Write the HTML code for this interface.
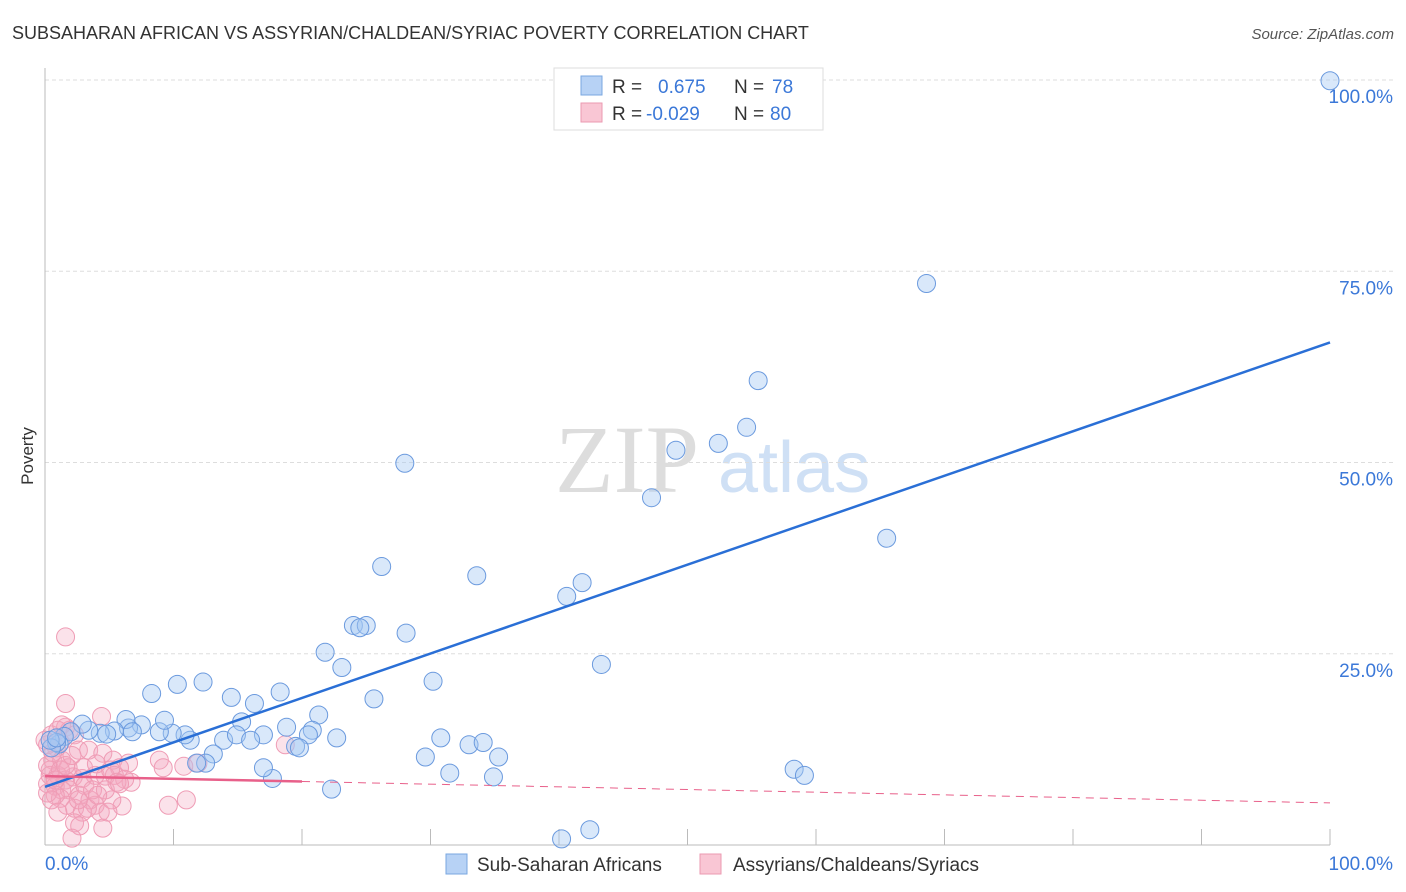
<!DOCTYPE html>
<html><head><meta charset="utf-8"><style>
body{margin:0;background:#fff;font-family:"Liberation Sans",sans-serif}
svg{display:block}
</style></head><body>
<svg id="chart" width="1406" height="892" xmlns="http://www.w3.org/2000/svg">
<text x="12" y="39" font-size="18" fill="#333" font-family="Liberation Sans">SUBSAHARAN AFRICAN VS ASSYRIAN/CHALDEAN/SYRIAC POVERTY CORRELATION CHART</text>
<text x="1394" y="39" font-size="15" fill="#555" text-anchor="end" font-style="italic">Source: ZipAtlas.com</text>
<text transform="translate(33,456) rotate(-90)" font-size="17" fill="#333" text-anchor="middle">Poverty</text>
<g>
<text x="555" y="492" font-size="96" fill="#ddd" font-family="Liberation Serif">ZIP</text>
<text x="718" y="492" font-size="72" fill="#cfe0f5">atlas</text>
</g>
<g id="grid"></g>
<g id="axes"></g>
<g id="pinkPts"></g>
<g id="bluePts"></g>
<g id="lines"></g>
<g>
<rect x="554" y="68" width="269" height="62" fill="#fff" stroke="#ddd"/>
<rect x="581" y="76" width="21" height="19" fill="#b7d2f5" stroke="#7aa7e0"/>
<rect x="581" y="103" width="21" height="19" fill="#f9c6d4" stroke="#eb9ab1"/>
<text x="612" y="93" font-size="19" fill="#333">R = </text><text x="658" y="93" font-size="19" fill="#3b78d8">0.675</text>
<text x="734" y="93" font-size="19" fill="#333">N = </text><text x="772" y="93" font-size="19" fill="#3b78d8">78</text>
<text x="612" y="120" font-size="19" fill="#333">R = </text><text x="646" y="120" font-size="19" fill="#3b78d8">-0.029</text>
<text x="734" y="120" font-size="19" fill="#333">N = </text><text x="770" y="120" font-size="19" fill="#3b78d8">80</text>
</g>
<g>
<rect x="446" y="854" width="21" height="20" fill="#b7d2f5" stroke="#7aa7e0"/>
<text x="477" y="871" font-size="19" fill="#333">Sub-Saharan Africans</text>
<rect x="700" y="854" width="21" height="20" fill="#f9c6d4" stroke="#eb9ab1"/>
<text x="733" y="871" font-size="19" fill="#333">Assyrians/Chaldeans/Syriacs</text>
</g>
</svg>
<script>
const yTicks=[25,50,75,100];
const yTickLabels=["25.0%","50.0%","75.0%","100.0%"];
const xTickLabels=["0.0%","100.0%"];
const blueX=[100,68.6,55.5,54.6,52.4,49.1,47.2,28.0,65.5,26.2,33.6,41.8,40.6,24.0,25.0,24.5,28.1,43.3,21.8,23.1,30.2,8.3,10.3,12.3,14.5,16.3,18.3,25.6,21.3,15.3,18.8,20.8,20.5,22.7,17.0,19.5,19.8,30.8,33.0,34.1,35.3,29.6,31.5,34.9,58.3,59.1,22.3,17.7,17.0,13.9,14.9,16.0,13.1,12.5,11.8,11.3,10.9,9.9,8.9,9.3,7.5,6.5,6.3,5.4,4.3,3.4,2.9,2.0,1.5,1.1,0.9,0.5,0.4,40.2,42.4,6.8,4.8,0.9];
const blueY=[99.9,73.4,60.7,54.6,52.5,51.6,45.4,49.9,40.1,36.4,35.2,34.3,32.5,28.7,28.7,28.4,27.7,23.6,25.2,23.2,21.4,19.8,21.0,21.3,19.3,18.5,20.0,19.1,17.0,16.1,15.4,15.0,14.4,14.0,14.4,12.9,12.7,14.0,13.1,13.4,11.5,11.5,9.4,8.9,9.9,9.1,7.3,8.7,10.1,13.7,14.4,13.7,11.9,10.7,10.7,13.7,14.4,14.6,14.8,16.3,15.7,15.3,16.4,14.9,14.6,15.0,15.8,14.8,14.2,13.2,13.4,12.7,13.7,0.8,2.0,14.8,14.5,14.0];
const pinkX=[1.6,1.6,4.4,1.6,1.9,2.3,0.5,0.9,1.2,2.6,3.4,4.5,5.3,6.5,8.9,10.8,11.9,18.7,9.2,5.8,6.7,0.6,0.4,1.0,1.6,2.2,2.9,3.9,4.7,5.4,6.2,0.2,0.8,1.3,1.9,2.7,3.5,3.9,2.3,1.7,2.9,4.3,6.0,5.2,4.9,1.2,0.8,2.3,2.7,4.5,2.1,9.6,11.0,0.4,0.2,0.6,1.3,1.8,3.1,3.7,4.7,0.2,1.0,1.3,0,0.2,5.1,5.6,5.8,3.3,4.1,1.2,2.6,0.8,1.6,2.1,0.5,3.0,4.0,1.0];
const pinkY=[27.2,18.5,16.8,15.4,15.0,14.4,14.4,12.7,13.4,12.4,12.4,12.0,11.1,10.7,11.1,10.3,10.7,13.1,10.1,10.1,8.2,11.1,9.8,9.1,8.5,8.9,8.7,9.1,9.0,9.1,8.6,8.0,7.7,7.2,7.2,6.5,5.9,5.2,4.8,5.2,4.3,4.3,5.1,5.9,4.3,6.1,6.5,2.9,2.5,2.2,0.9,5.2,5.9,9.1,10.4,12.1,11.1,10.1,7.8,7.2,7.2,13.1,15.0,15.7,13.7,6.8,9.8,8.2,8.0,4.8,6.5,9.8,5.9,8.5,10.4,11.7,5.9,10.1,10.6,4.3];
const blueTrend=[7.6,65.7];
const pinkTrend=[9.0,5.5];
const pinkSolidEnd=20;

const NS="http://www.w3.org/2000/svg";
const X0=45,X1=1330,Y0=845,Y1=80;
function xs(v){return X0+(X1-X0)*v/100;}
function ys(v){return Y0-(Y0-Y1)*v/100;}
function mk(tag,attrs,parent){const e=document.createElementNS(NS,tag);for(const k in attrs)e.setAttribute(k,attrs[k]);document.getElementById(parent).appendChild(e);return e;}

yTicks.forEach((t,i)=>{
 const l=mk('line',{x1:X0,x2:1394,y1:ys(t),y2:ys(t),stroke:'#ddd','stroke-dasharray':'4,3'},'grid');
 
 
 const tx=mk('text',{x:1393,y:ys(t)+23,'font-size':19,fill:'#3b78d8','text-anchor':'end'},'grid');
 tx.textContent=yTickLabels[i];
 
 
});
let ax=mk('line',{x1:X0,x2:X0,y1:68,y2:Y0,stroke:'#bbb'},'axes');


ax=mk('line',{x1:X0,x2:X1,y1:Y0,y2:Y0,stroke:'#bbb'},'axes');


for(let i=1;i<=10;i++){const t=mk('line',{x1:xs(i*10),x2:xs(i*10),y1:Y0-16,y2:Y0,stroke:'#bbb'},'axes');
 
 }
let xl=mk('text',{x:45,y:870,'font-size':19,fill:'#3b78d8'},'axes');xl.textContent=xTickLabels[0];


xl=mk('text',{x:1393,y:870,'font-size':19,fill:'#3b78d8','text-anchor':'end'},'axes');xl.textContent=xTickLabels[1];



pinkX.forEach((v,i)=>{const c=mk('circle',{cx:xs(v),cy:ys(pinkY[i]),r:9,fill:'rgba(244,166,190,0.33)',stroke:'#ef9cb5','stroke-width':1},'pinkPts');
 
 });
blueX.forEach((v,i)=>{const c=mk('circle',{cx:xs(v),cy:ys(blueY[i]),r:9,fill:'rgba(165,200,242,0.42)',stroke:'#6b9ade','stroke-width':1},'bluePts');
 
 });

let ln=mk('line',{x1:xs(0),y1:ys(blueTrend[0]),x2:xs(100),y2:ys(blueTrend[1]),stroke:'#2a6fd6','stroke-width':2.5},'lines');


const pm=pinkTrend[0]+(pinkTrend[1]-pinkTrend[0])*pinkSolidEnd/100;
ln=mk('line',{x1:xs(0),y1:ys(pinkTrend[0]),x2:xs(pinkSolidEnd),y2:ys(pm),stroke:'#e8608a','stroke-width':2.5},'lines');


ln=mk('line',{x1:xs(pinkSolidEnd),y1:ys(pm),x2:xs(100),y2:ys(pinkTrend[1]),stroke:'#e8608a','stroke-width':1,'stroke-dasharray':'8,6'},'lines');


</script>
</body></html>
